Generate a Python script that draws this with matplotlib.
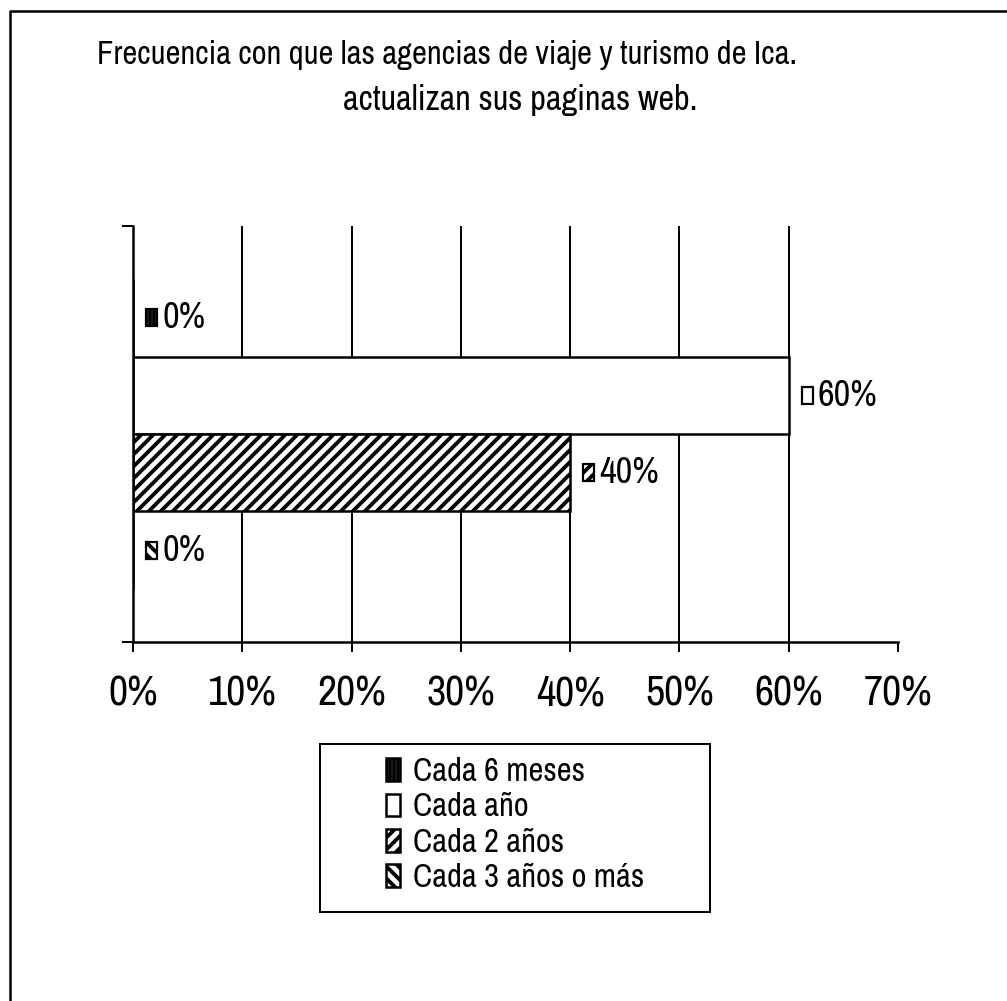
import matplotlib
matplotlib.use("Agg")
import matplotlib.pyplot as plt
import matplotlib.font_manager as fm
from matplotlib.patches import Rectangle
from matplotlib.lines import Line2D
from matplotlib.offsetbox import DrawingArea, TextArea, HPacker, AnnotationBbox

# ---- data ----
title_line1 = "Frecuencia con que las agencias de viaje y turismo de Ica."
title_line2 = "actualizan sus paginas web."
series = ["Cada 6 meses", "Cada año", "Cada 2 años", "Cada 3 años o más"]
values = [0, 60, 40, 0]
xticks = [0, 10, 20, 30, 40, 50, 60, 70]
xtick_labels = ["0%", "10%", "20%", "30%", "40%", "50%", "60%", "70%"]

# ---- font: prefer a narrow / condensed face if one is installed ----
def pick_font():
    ents = [f for f in fm.fontManager.ttflist if f.style == "normal"]
    def is_regular(f):
        return f.weight in (400, "normal", "regular", "book", 500, "medium")
    ranked = []
    for f in ents:
        nm = f.name.lower()
        st = str(f.stretch).lower()
        score = None
        if "narrow" in nm:
            score = 0
        elif "condensed" in nm:
            score = 1
        elif "condensed" in st:
            score = 2 if "semi" not in st else 3
        if score is not None:
            if not is_regular(f):
                score += 10
            ranked.append((score, f.fname))
    if ranked:
        ranked.sort()
        return fm.FontProperties(fname=ranked[0][1])
    return fm.FontProperties(family="Liberation Sans")

FP = pick_font()
plt.rcParams["hatch.linewidth"] = 3.8
plt.rcParams["hatch.color"] = "black"

hatches = ["|||", "", "//", "\\\\"]

W, H = 1007, 1001
DPI = 72
fig = plt.figure(figsize=(W / DPI, H / DPI), dpi=DPI, facecolor="white")
R = fig.canvas.get_renderer()

def fx(px):
    return px / W

def fy(py):
    return 1 - py / H

def size_for(s, target_w, target_cap=None, a=0.5):
    t = fig.text(0, 0, s, fontproperties=FP, fontsize=100)
    w = t.get_window_extent(R).width
    t.remove()
    sw = 100 * target_w / w
    if target_cap is None:
        return sw
    sh = target_cap / 0.72
    return min(sh, (sw ** a) * (sh ** (1 - a)))

ax_left, ax_right, ax_top, ax_bottom = 133, 898, 226, 642
ax = fig.add_axes([fx(ax_left), fy(ax_bottom), fx(ax_right - ax_left), (ax_bottom - ax_top) / H])

n = len(series)
bar_h = 1.0
ypos = [(n - 1) / 2 - i for i in range(n)]
half = 2.684
ax.set_ylim(-half, half)
ax.set_xlim(xticks[0], xticks[-1])

ax.vlines(xticks[1:-1], -half, half, colors="black", lw=2.0, zorder=0)

bars = []
for y, v, h, lab in zip(ypos, values, hatches, series):
    b = ax.barh(y, v, height=bar_h, color="white", edgecolor="black", lw=2.5,
                hatch=h, label=lab, zorder=2)
    bars.append(b)

val_size = size_for("60%", 50, 30, a=0.45)
for y, v, h in zip(ypos, values, hatches):
    da = DrawingArea(11, 17, 0, 0)
    da.add_artist(Rectangle((0, 0), 11, 17, facecolor="white", edgecolor="black", lw=2.2, hatch=h))
    ta = TextArea(f"{v}%", textprops=dict(fontproperties=FP, fontsize=val_size, color="black"))
    box = HPacker(children=[da, ta], align="center", pad=0, sep=5)
    ab = AnnotationBbox(box, (v, y), xybox=(13, 0), xycoords="data", boxcoords="offset points",
                        box_alignment=(0, 0.5), frameon=False, zorder=5)
    ax.add_artist(ab)

for s in ["top", "right"]:
    ax.spines[s].set_visible(False)
for s in ["left", "bottom"]:
    ax.spines[s].set_linewidth(2.5)
ax.set_facecolor("none")
tick_size = size_for("70%", 50, 36, a=0.35)
ax.set_xticks(xticks)
ax.set_xticklabels(xtick_labels, fontproperties=FP, fontsize=tick_size)
ax.tick_params(axis="x", direction="out", length=10, width=2,
               pad=max(4, 690 - 652 - 0.36 * tick_size))
ax.set_yticks([-half, half])
ax.set_yticklabels([])
ax.tick_params(axis="y", direction="out", length=11, width=2)

t1 = size_for(title_line1, 700)
t2 = size_for(title_line2, 355)
fig.text(fx(97), fy(55), title_line1, fontproperties=FP, fontsize=t1, ha="left", va="center")
fig.text(fx(343), fy(100), title_line2, fontproperties=FP, fontsize=t2, ha="left", va="center")

leg_size = size_for("Cada 3 años o más", 215, 26, a=0.6)
leg_fp = FP.copy()
leg_fp.set_size(leg_size)
leg = ax.legend(handles=bars, labels=series, loc="center",
                bbox_to_anchor=(fx(515), fy(825)), bbox_transform=fig.transFigure,
                frameon=False, prop=leg_fp, handlelength=0.45, handleheight=0.7,
                handletextpad=0.4, labelspacing=max(0.0, (35 - 0.91 * leg_size) / leg_size),
                borderpad=0)
fig.add_artist(Rectangle((fx(320), fy(912)), fx(710) - fx(320), (912 - 744) / H,
                         transform=fig.transFigure, fill=False, edgecolor="black", lw=2))

fig.add_artist(Line2D([fx(10), fx(10), 1.0], [0.0, fy(11), fy(11)], transform=fig.transFigure,
                      color="black", lw=2.5))

fig.savefig("out.png", dpi=DPI, facecolor="white")
